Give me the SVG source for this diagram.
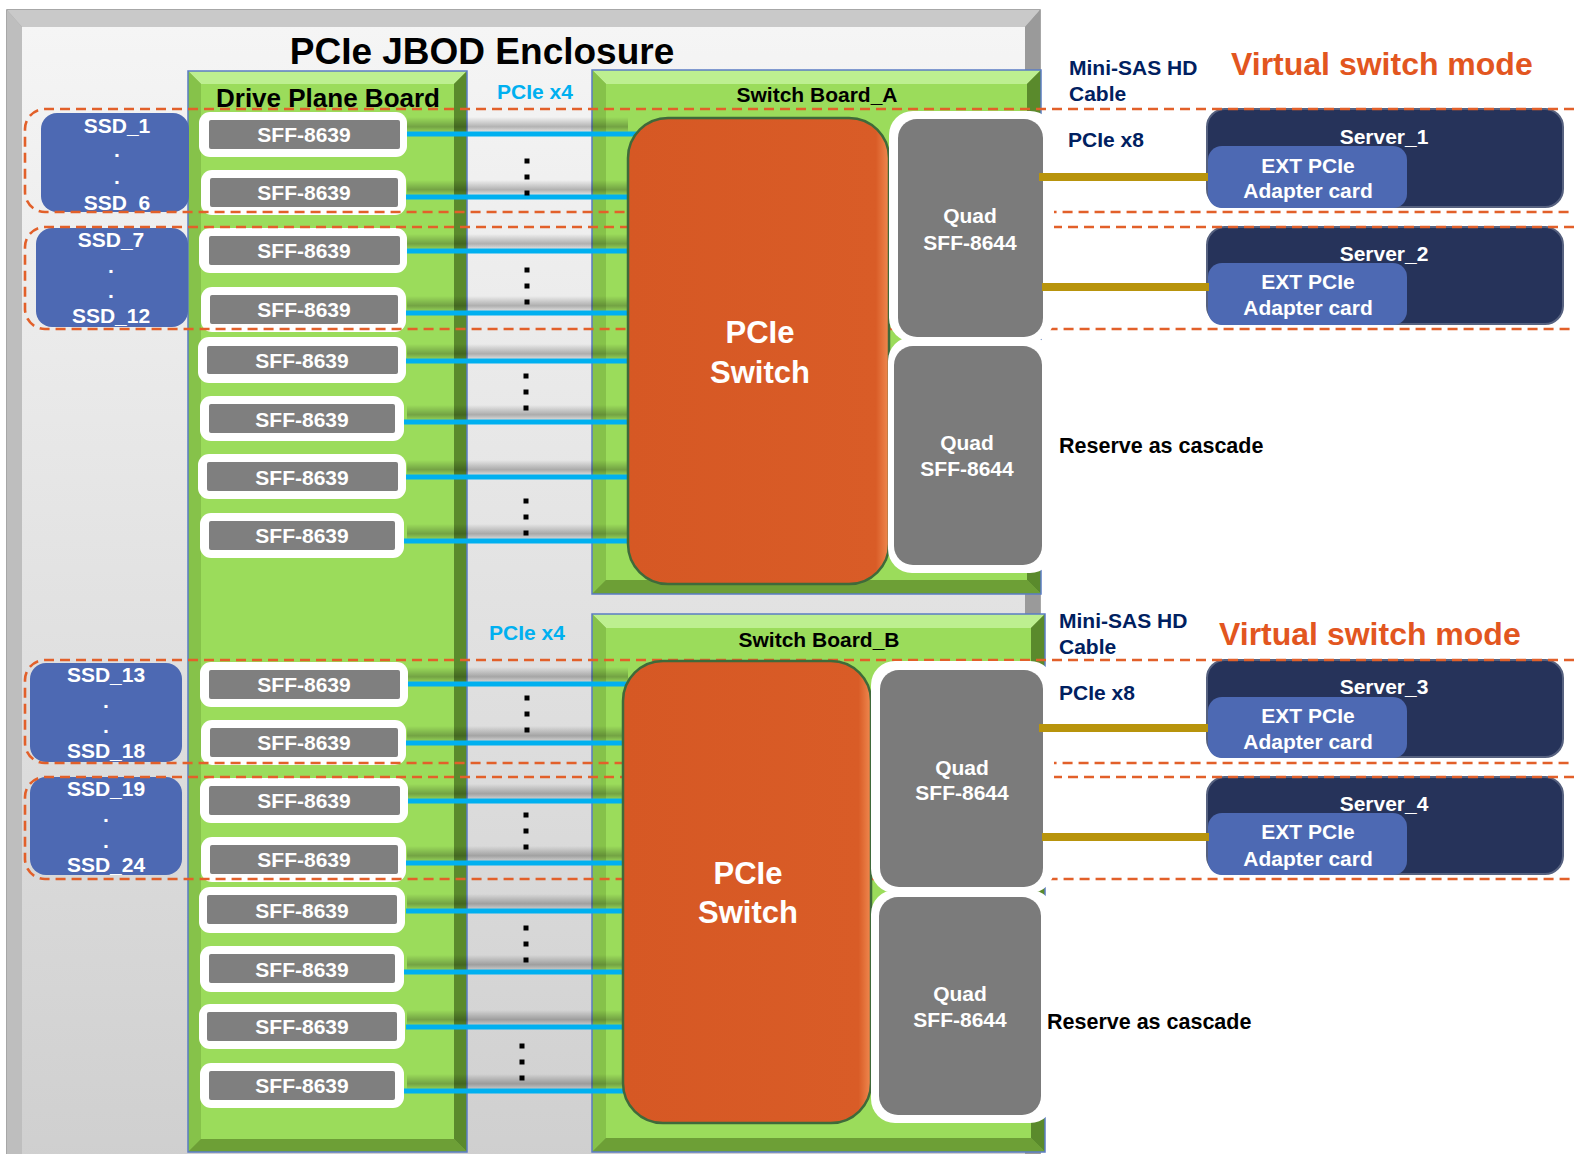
<svg xmlns="http://www.w3.org/2000/svg" width="1574" height="1154" viewBox="0 0 1574 1154">
<defs>
<style>
.t{font-family:"Liberation Sans",Arial,Helvetica,sans-serif;font-weight:bold}
.m{text-anchor:middle}
.wt{fill:#ffffff}
.bk{fill:#000000}
.nv{fill:#002060}
.cyt{fill:#00b0f0}
.org{fill:#e2561f}
.sffo{fill:#ffffff}
.sffi{fill:#7f7f7f}
.ssd{fill:#4d69b3}
.quad{fill:#7b7b7b}
.quado{fill:#ffffff}
.cy{stroke:#00b0f0;stroke-width:5;fill:none}
.gold{stroke:#b8940c;stroke-width:8;fill:none}
.dash{fill:none;stroke:#e2602a;stroke-width:2.6;stroke-dasharray:10 6}
.dot{fill:#000000}
.face{fill:#9bdc5b}
.bt{fill:#bdef90}
.bl{fill:#86c24a}
.br{fill:#5a8a2c}
.bb{fill:#6d9f36}
.bo{fill:none;stroke:#5b7cc4;stroke-width:1.5}
.band{fill:url(#band)}
.srv{fill:#26335a;stroke:#56617f;stroke-width:2}
.ext{fill:#4d69b3}
.sw{fill:url(#swg);stroke:#3f6a3a;stroke-width:2.5}
</style>
<linearGradient id="encl" x1="0" y1="0" x2="0" y2="1">
<stop offset="0" stop-color="#f5f5f5"/>
<stop offset="1" stop-color="#cfcfcf"/>
</linearGradient>
<linearGradient id="band" x1="0" y1="0" x2="0" y2="1">
<stop offset="0" stop-color="#000" stop-opacity="0"/>
<stop offset="0.65" stop-color="#000" stop-opacity="0.26"/>
<stop offset="1" stop-color="#000" stop-opacity="0.05"/>
</linearGradient>
<linearGradient id="swg" x1="0" y1="0" x2="1" y2="0">
<stop offset="0" stop-color="#d65824"/>
<stop offset="0.95" stop-color="#d95c27"/>
<stop offset="1" stop-color="#f08a50"/>
</linearGradient>
<clipPath id="c1"><rect x="41" y="113" width="148" height="99" rx="16"/></clipPath>
<clipPath id="c2"><rect x="36" y="228" width="152" height="99" rx="16"/></clipPath>
<clipPath id="c3"><rect x="30" y="663" width="152" height="99" rx="16"/></clipPath>
<clipPath id="c4"><rect x="30" y="777" width="152" height="98" rx="16"/></clipPath>
</defs>
<rect x="0" y="0" width="1574" height="1154" fill="#ffffff"/>

<g id="enclosure">
<rect x="7" y="10" width="1033" height="1160" fill="#a8a8a8" stroke="#8a8a8a" stroke-width="1.5"/>
<polygon points="7,10 1040,10 1025,27 22,27" fill="#c9c9c9"/>
<polygon points="7,10 22,27 22,1170 7,1170" fill="#bebebe"/>
<polygon points="1040,10 1040,1170 1025,1170 1025,27" fill="#9a9a9a"/>
<rect x="22" y="27" width="1003" height="1143" fill="url(#encl)"/>
<text class="t m bk" x="482" y="64" font-size="37">PCIe JBOD Enclosure</text>
</g>

<g id="drive-plane-board">
<rect x="188" y="71" width="279" height="1081" fill="#7fb347"/>
<polygon class="bt" points="188,71 467,71 454,84 201,84"/>
<polygon class="bl" points="188,71 201,84 201,1139 188,1152"/>
<polygon class="br" points="467,71 467,1152 454,1139 454,84"/>
<polygon class="bb" points="188,1152 467,1152 454,1139 201,1139"/>
<rect class="face" x="201" y="84" width="253" height="1055"/>
<rect class="bo" x="188" y="71" width="279" height="1081"/>
<text class="t m bk" x="328" y="107" font-size="26">Drive Plane Board</text>
</g>

<g id="switch-board-a">
<rect x="592" y="70" width="449" height="524" fill="#7fb347"/>
<polygon class="bt" points="592,70 1041,70 1027,84 606,84"/>
<polygon class="bl" points="592,70 606,84 606,580 592,594"/>
<polygon class="br" points="1041,70 1041,594 1027,580 1027,84"/>
<polygon class="bb" points="592,594 1041,594 1027,580 606,580"/>
<rect class="face" x="606" y="84" width="421" height="496"/>
<rect class="bo" x="592" y="70" width="449" height="524"/>
<text class="t m bk" x="817" y="102" font-size="21">Switch Board_A</text>
</g>

<g id="switch-board-b">
<rect x="592" y="614" width="453" height="538" fill="#7fb347"/>
<polygon class="bt" points="592,614 1045,614 1031,628 606,628"/>
<polygon class="bl" points="592,614 606,628 606,1138 592,1152"/>
<polygon class="br" points="1045,614 1045,1152 1031,1138 1031,628"/>
<polygon class="bb" points="592,1152 1045,1152 1031,1138 606,1138"/>
<rect class="face" x="606" y="628" width="425" height="510"/>
<rect class="bo" x="592" y="614" width="453" height="538"/>
<text class="t m bk" x="819" y="647" font-size="21">Switch Board_B</text>
</g>

<g id="shadow-bands">
<rect class="band" x="407" y="117" width="221" height="15"/>
<rect class="band" x="407" y="180" width="221" height="15"/>
<rect class="band" x="407" y="234" width="221" height="15"/>
<rect class="band" x="407" y="296" width="221" height="15"/>
<rect class="band" x="407" y="344" width="221" height="15"/>
<rect class="band" x="407" y="405" width="221" height="15"/>
<rect class="band" x="407" y="460" width="221" height="15"/>
<rect class="band" x="407" y="524" width="221" height="15"/>
<rect class="band" x="407" y="667" width="221" height="15"/>
<rect class="band" x="407" y="726" width="221" height="15"/>
<rect class="band" x="407" y="784" width="221" height="15"/>
<rect class="band" x="407" y="846" width="221" height="15"/>
<rect class="band" x="407" y="894" width="221" height="15"/>
<rect class="band" x="407" y="955" width="221" height="15"/>
<rect class="band" x="407" y="1010" width="221" height="15"/>
<rect class="band" x="407" y="1074" width="221" height="15"/>
</g>

<g id="connectors">
<line class="cy" x1="406" y1="134" x2="660" y2="134"/>
<line class="cy" x1="404" y1="197" x2="660" y2="197"/>
<line class="cy" x1="406" y1="251" x2="660" y2="251"/>
<line class="cy" x1="404" y1="313" x2="660" y2="313"/>
<line class="cy" x1="406" y1="361" x2="660" y2="361"/>
<line class="cy" x1="404" y1="422" x2="660" y2="422"/>
<line class="cy" x1="406" y1="477" x2="660" y2="477"/>
<line class="cy" x1="404" y1="541" x2="660" y2="541"/>
<line class="cy" x1="406" y1="684" x2="650" y2="684"/>
<line class="cy" x1="404" y1="743" x2="650" y2="743"/>
<line class="cy" x1="406" y1="801" x2="650" y2="801"/>
<line class="cy" x1="404" y1="863" x2="650" y2="863"/>
<line class="cy" x1="406" y1="911" x2="650" y2="911"/>
<line class="cy" x1="404" y1="972" x2="650" y2="972"/>
<line class="cy" x1="406" y1="1027" x2="650" y2="1027"/>
<line class="cy" x1="404" y1="1091" x2="650" y2="1091"/>
</g>

<g id="dots">
<rect class="dot" x="524.5" y="158.5" width="5" height="5"/><rect class="dot" x="524.5" y="174.5" width="5" height="5"/><rect class="dot" x="524.5" y="190.5" width="5" height="5"/>
<rect class="dot" x="524.5" y="267.5" width="5" height="5"/><rect class="dot" x="524.5" y="283.5" width="5" height="5"/><rect class="dot" x="524.5" y="299.5" width="5" height="5"/>
<rect class="dot" x="523.5" y="373.5" width="5" height="5"/><rect class="dot" x="523.5" y="389.5" width="5" height="5"/><rect class="dot" x="523.5" y="405.5" width="5" height="5"/>
<rect class="dot" x="523.5" y="498.5" width="5" height="5"/><rect class="dot" x="523.5" y="514.5" width="5" height="5"/><rect class="dot" x="523.5" y="530.5" width="5" height="5"/>
<rect class="dot" x="524.5" y="695.5" width="5" height="5"/><rect class="dot" x="524.5" y="711.5" width="5" height="5"/><rect class="dot" x="524.5" y="727.5" width="5" height="5"/>
<rect class="dot" x="523.5" y="812.5" width="5" height="5"/><rect class="dot" x="523.5" y="828.5" width="5" height="5"/><rect class="dot" x="523.5" y="844.5" width="5" height="5"/>
<rect class="dot" x="523.5" y="925.5" width="5" height="5"/><rect class="dot" x="523.5" y="941.5" width="5" height="5"/><rect class="dot" x="523.5" y="957.5" width="5" height="5"/>
<rect class="dot" x="519.5" y="1043.5" width="5" height="5"/><rect class="dot" x="519.5" y="1059.5" width="5" height="5"/><rect class="dot" x="519.5" y="1075.5" width="5" height="5"/>
</g>

<g id="sff-1"><rect class="sffo" x="199" y="112" width="208" height="45" rx="11"/><rect class="sffi" x="209" y="120" width="191" height="29" rx="2"/><text class="t m wt" x="304" y="142" font-size="21">SFF-8639</text></g>
<g id="sff-2"><rect class="sffo" x="201" y="170" width="205" height="45" rx="11"/><rect class="sffi" x="210" y="178" width="188" height="29" rx="2"/><text class="t m wt" x="304" y="200" font-size="21">SFF-8639</text></g>
<g id="sff-3"><rect class="sffo" x="199" y="228" width="208" height="45" rx="11"/><rect class="sffi" x="209" y="236" width="191" height="29" rx="2"/><text class="t m wt" x="304" y="258" font-size="21">SFF-8639</text></g>
<g id="sff-4"><rect class="sffo" x="201" y="287" width="205" height="45" rx="11"/><rect class="sffi" x="210" y="295" width="188" height="29" rx="2"/><text class="t m wt" x="304" y="317" font-size="21">SFF-8639</text></g>
<g id="sff-5"><rect class="sffo" x="198" y="337" width="208" height="46" rx="11"/><rect class="sffi" x="207" y="346" width="191" height="28" rx="2"/><text class="t m wt" x="302" y="368" font-size="21">SFF-8639</text></g>
<g id="sff-6"><rect class="sffo" x="200" y="396" width="204" height="45" rx="11"/><rect class="sffi" x="209" y="404" width="186" height="29" rx="2"/><text class="t m wt" x="302" y="427" font-size="21">SFF-8639</text></g>
<g id="sff-7"><rect class="sffo" x="198" y="454" width="208" height="45" rx="11"/><rect class="sffi" x="207" y="462" width="191" height="29" rx="2"/><text class="t m wt" x="302" y="485" font-size="21">SFF-8639</text></g>
<g id="sff-8"><rect class="sffo" x="200" y="513" width="204" height="45" rx="11"/><rect class="sffi" x="209" y="521" width="186" height="29" rx="2"/><text class="t m wt" x="302" y="543" font-size="21">SFF-8639</text></g>

<g id="sff-9"><rect class="sffo" x="200" y="662" width="208" height="45" rx="11"/><rect class="sffi" x="209" y="670" width="191" height="29" rx="2"/><text class="t m wt" x="304" y="692" font-size="21">SFF-8639</text></g>
<g id="sff-10"><rect class="sffo" x="201" y="720" width="205" height="45" rx="11"/><rect class="sffi" x="210" y="728" width="188" height="29" rx="2"/><text class="t m wt" x="304" y="750" font-size="21">SFF-8639</text></g>
<g id="sff-11"><rect class="sffo" x="200" y="778" width="208" height="45" rx="11"/><rect class="sffi" x="209" y="786" width="191" height="29" rx="2"/><text class="t m wt" x="304" y="808" font-size="21">SFF-8639</text></g>
<g id="sff-12"><rect class="sffo" x="201" y="837" width="205" height="45" rx="11"/><rect class="sffi" x="210" y="845" width="188" height="29" rx="2"/><text class="t m wt" x="304" y="867" font-size="21">SFF-8639</text></g>
<g id="sff-13"><rect class="sffo" x="199" y="887" width="206" height="46" rx="11"/><rect class="sffi" x="207" y="895" width="190" height="29" rx="2"/><text class="t m wt" x="302" y="918" font-size="21">SFF-8639</text></g>
<g id="sff-14"><rect class="sffo" x="200" y="946" width="204" height="46" rx="11"/><rect class="sffi" x="209" y="954" width="186" height="29" rx="2"/><text class="t m wt" x="302" y="977" font-size="21">SFF-8639</text></g>
<g id="sff-15"><rect class="sffo" x="199" y="1004" width="206" height="45" rx="11"/><rect class="sffi" x="207" y="1012" width="190" height="29" rx="2"/><text class="t m wt" x="302" y="1034" font-size="21">SFF-8639</text></g>
<g id="sff-16"><rect class="sffo" x="200" y="1063" width="204" height="45" rx="11"/><rect class="sffi" x="209" y="1071" width="186" height="29" rx="2"/><text class="t m wt" x="302" y="1093" font-size="21">SFF-8639</text></g>

<g id="ssd-1-6">
<rect class="ssd" x="41" y="113" width="148" height="99" rx="16"/>
<g clip-path="url(#c1)" class="t m wt" font-size="21">
<text x="117" y="133">SSD_1</text><text x="117" y="157">.</text><text x="117" y="184">.</text><text x="117" y="210">SSD_6</text>
</g>
</g>
<g id="ssd-7-12">
<rect class="ssd" x="36" y="228" width="152" height="99" rx="16"/>
<g clip-path="url(#c2)" class="t m wt" font-size="21">
<text x="111" y="247">SSD_7</text><text x="111" y="273">.</text><text x="111" y="298">.</text><text x="111" y="323">SSD_12</text>
</g>
</g>
<g id="ssd-13-18">
<rect class="ssd" x="30" y="663" width="152" height="99" rx="16"/>
<g clip-path="url(#c3)" class="t m wt" font-size="21">
<text x="106" y="682">SSD_13</text><text x="106" y="708">.</text><text x="106" y="733">.</text><text x="106" y="758">SSD_18</text>
</g>
</g>
<g id="ssd-19-24">
<rect class="ssd" x="30" y="777" width="152" height="98" rx="16"/>
<g clip-path="url(#c4)" class="t m wt" font-size="21">
<text x="106" y="796">SSD_19</text><text x="106" y="822">.</text><text x="106" y="848">.</text><text x="106" y="872">SSD_24</text>
</g>
</g>

<g id="server-1">
<rect class="srv" x="1207" y="109" width="356" height="98" rx="18"/>
<text class="t m wt" x="1384" y="144" font-size="21">Server_1</text>
<rect class="ext" x="1208" y="146" width="199" height="62" rx="14"/>
<text class="t m wt" x="1308" y="173" font-size="21">EXT PCIe</text>
<text class="t m wt" x="1308" y="198" font-size="21">Adapter card</text>
</g>
<g id="server-2">
<rect class="srv" x="1207" y="227" width="356" height="97" rx="18"/>
<text class="t m wt" x="1384" y="261" font-size="21">Server_2</text>
<rect class="ext" x="1208" y="263" width="199" height="62" rx="14"/>
<text class="t m wt" x="1308" y="289" font-size="21">EXT PCIe</text>
<text class="t m wt" x="1308" y="315" font-size="21">Adapter card</text>
</g>
<g id="server-3">
<rect class="srv" x="1207" y="660" width="356" height="97" rx="18"/>
<text class="t m wt" x="1384" y="694" font-size="21">Server_3</text>
<rect class="ext" x="1208" y="697" width="199" height="61" rx="14"/>
<text class="t m wt" x="1308" y="723" font-size="21">EXT PCIe</text>
<text class="t m wt" x="1308" y="749" font-size="21">Adapter card</text>
</g>
<g id="server-4">
<rect class="srv" x="1207" y="777" width="356" height="97" rx="18"/>
<text class="t m wt" x="1384" y="811" font-size="21">Server_4</text>
<rect class="ext" x="1208" y="813" width="199" height="62" rx="14"/>
<text class="t m wt" x="1308" y="839" font-size="21">EXT PCIe</text>
<text class="t m wt" x="1308" y="866" font-size="21">Adapter card</text>
</g>

<g id="dashed-groups">
<path class="dash" d="M1574,109 H45 A20,20 0 0 0 25,129 V192 A20,20 0 0 0 45,212 H1574"/>
<path class="dash" d="M1574,227 H45 A20,20 0 0 0 25,247 V309 A20,20 0 0 0 45,329 H1574"/>
<path class="dash" d="M1574,660 H45 A20,20 0 0 0 25,680 V743 A20,20 0 0 0 45,763 H1574"/>
<path class="dash" d="M1574,777 H45 A20,20 0 0 0 25,797 V859 A20,20 0 0 0 45,879 H1574"/>
</g>

<g id="pcie-switch-a">
<rect class="sw" x="628" y="118" width="261" height="466" rx="40"/>
<text class="t m wt" x="760" y="343" font-size="31">PCIe</text>
<text class="t m wt" x="760" y="383" font-size="31">Switch</text>
</g>
<g id="pcie-switch-b">
<rect class="sw" x="623" y="661" width="248" height="462" rx="40"/>
<text class="t m wt" x="748" y="884" font-size="31">PCIe</text>
<text class="t m wt" x="748" y="923" font-size="31">Switch</text>
</g>

<g id="quad-a1">
<rect class="quado" x="889" y="111" width="165" height="231" rx="24"/>
<rect class="quad" x="898" y="119" width="145" height="218" rx="19"/>
<text class="t m wt" x="970" y="223" font-size="21">Quad</text>
<text class="t m wt" x="970" y="250" font-size="21">SFF-8644</text>
</g>
<g id="quad-a2">
<rect class="quado" x="888" y="337" width="166" height="236" rx="24"/>
<rect class="quad" x="894" y="346" width="148" height="219" rx="19"/>
<text class="t m wt" x="967" y="450" font-size="21">Quad</text>
<text class="t m wt" x="967" y="476" font-size="21">SFF-8644</text>
</g>
<g id="quad-b1">
<rect class="quado" x="871" y="661" width="183" height="232" rx="24"/>
<rect class="quad" x="880" y="670" width="163" height="217" rx="19"/>
<text class="t m wt" x="962" y="775" font-size="21">Quad</text>
<text class="t m wt" x="962" y="800" font-size="21">SFF-8644</text>
</g>
<g id="quad-b2">
<rect class="quado" x="871" y="890" width="183" height="233" rx="24"/>
<rect class="quad" x="879" y="897" width="162" height="218" rx="19"/>
<text class="t m wt" x="960" y="1001" font-size="21">Quad</text>
<text class="t m wt" x="960" y="1027" font-size="21">SFF-8644</text>
</g>

<g id="cables">
<line class="gold" x1="1039" y1="177" x2="1208" y2="177"/>
<line class="gold" x1="1042" y1="287" x2="1209" y2="287"/>
<line class="gold" x1="1039" y1="728" x2="1208" y2="728"/>
<line class="gold" x1="1042" y1="837" x2="1209" y2="837"/>
</g>

<g id="labels">
<text class="t cyt" x="497" y="99" font-size="21">PCIe x4</text>
<text class="t cyt" x="489" y="640" font-size="21">PCIe x4</text>
<text class="t nv" x="1069" y="75" font-size="21">Mini-SAS HD</text>
<text class="t nv" x="1069" y="101" font-size="21">Cable</text>
<text class="t nv" x="1068" y="147" font-size="21">PCIe x8</text>
<text class="t org" x="1231" y="75" font-size="32">Virtual switch mode</text>
<text class="t bk" x="1059" y="453" font-size="21.5">Reserve as cascade</text>
<text class="t nv" x="1059" y="628" font-size="21">Mini-SAS HD</text>
<text class="t nv" x="1059" y="654" font-size="21">Cable</text>
<text class="t nv" x="1059" y="700" font-size="21">PCIe x8</text>
<text class="t org" x="1219" y="645" font-size="32">Virtual switch mode</text>
<text class="t bk" x="1047" y="1029" font-size="21.5">Reserve as cascade</text>
</g>
</svg>
